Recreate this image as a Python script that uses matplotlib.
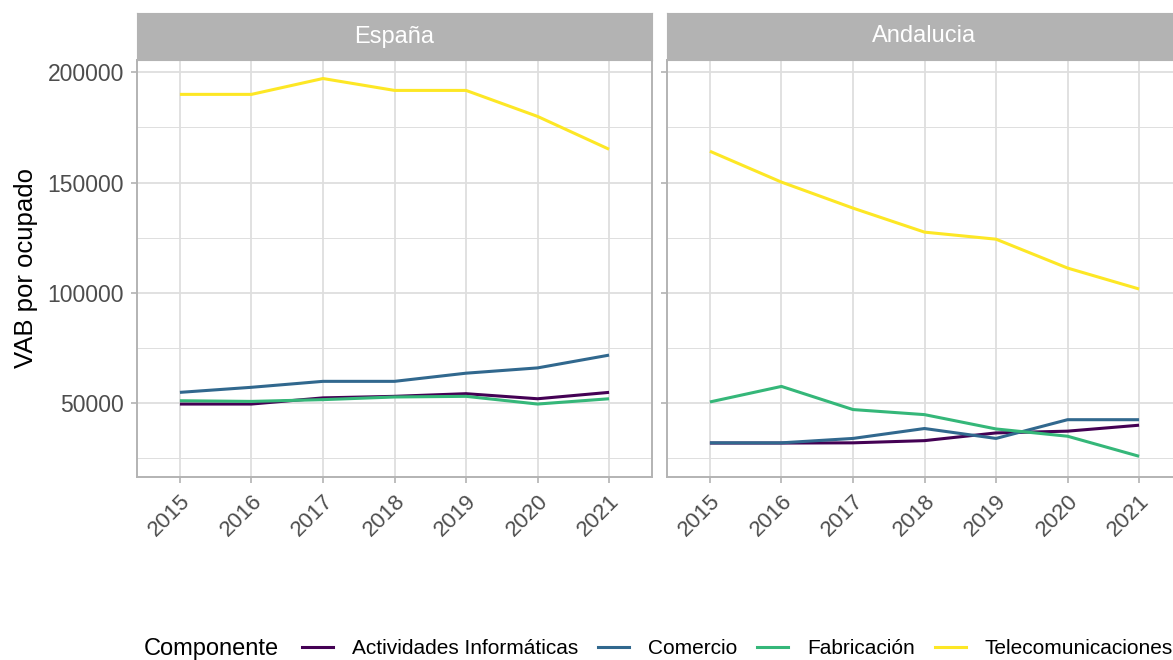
import matplotlib
matplotlib.use("Agg")
import matplotlib.pyplot as plt
from matplotlib.lines import Line2D
from matplotlib.ticker import MultipleLocator, FuncFormatter

plt.rcParams['font.family'] = ['Liberation Sans', 'DejaVu Sans']

years = [2015, 2016, 2017, 2018, 2019, 2020, 2021]
regions = ["España", "Andalucia"]
componentes = ["Actividades Informáticas", "Comercio", "Fabricación", "Telecomunicaciones"]
colors = ["#440154", "#31688E", "#35B779", "#FDE725"]

espana_actividades = [49500, 49500, 52300, 53000, 54200, 51900, 54800]
espana_comercio = [54800, 57100, 59800, 59800, 63500, 65900, 71700]
espana_fabricacion = [51000, 50700, 51500, 52700, 53000, 49500, 51900]
espana_telecom = [190000, 190000, 197200, 191800, 191800, 180000, 165100]

andalucia_actividades = [31800, 31800, 31900, 32900, 36400, 37200, 39900]
andalucia_comercio = [31900, 31900, 33900, 38400, 33900, 42400, 42400]
andalucia_fabricacion = [50450, 57500, 47000, 44700, 38200, 34900, 25800]
andalucia_telecom = [164200, 150200, 138400, 127500, 124300, 111200, 101700]

data = {
    "España": [espana_actividades, espana_comercio, espana_fabricacion, espana_telecom],
    "Andalucia": [andalucia_actividades, andalucia_comercio, andalucia_fabricacion, andalucia_telecom],
}

W, H = 1173, 660
fig = plt.figure(figsize=(W / 100, H / 100), dpi=100)

grey70 = "#B3B3B3"
grey87 = "#DEDEDE"
grey30 = "#4D4D4D"

panel_left = [137, 667]
panel_w = 515
panel_top, panel_bot = 60, 477
strip_top = 13

for i, reg in enumerate(regions):
    l = panel_left[i] / W
    b = 1 - panel_bot / H
    ax = fig.add_axes([l, b, panel_w / W, (panel_bot - panel_top) / H])
    for vals, c in zip(data[reg], colors):
        ax.plot(years, vals, color=c, lw=2.2, solid_capstyle='butt', zorder=3)
    ax.set_xlim(2015 - 0.6, 2021 + 0.6)
    ax.set_ylim(16400, 205600)
    ax.set_xticks(years)
    ax.set_xticklabels([str(y) for y in years], rotation=45, ha='right', va='top',
                       rotation_mode='anchor', color=grey30, fontsize=16)
    ax.yaxis.set_major_locator(MultipleLocator(50000))
    ax.yaxis.set_minor_locator(MultipleLocator(25000))
    ax.grid(which='major', color=grey87, lw=1.3, zorder=0)
    ax.grid(which='minor', axis='y', color=grey87, lw=0.7, zorder=0)
    ax.tick_params(axis='both', which='major', color=grey70, length=4, width=1.2,
                   labelsize=16, labelcolor=grey30)
    ax.tick_params(axis='y', which='major', labelsize=16.5)
    ax.tick_params(axis='y', which='minor', length=0)
    ax.tick_params(axis='x', pad=6)
    ax.tick_params(axis='y', pad=5.5)
    for s in ax.spines.values():
        s.set_color(grey70)
        s.set_linewidth(1.4)
    ax.set_axisbelow(True)
    if i == 0:
        ax.set_ylabel("VAB por ocupado", fontsize=18.5, color='black', labelpad=7)
        ax.yaxis.set_major_formatter(FuncFormatter(lambda v, p: f"{int(v)}"))
    else:
        ax.set_yticklabels([])
    # strip
    sax = fig.add_axes([l, 1 - panel_top / H, panel_w / W, (panel_top - strip_top) / H])
    sax.set_facecolor(grey70)
    sax.set_xticks([]); sax.set_yticks([])
    for s in sax.spines.values():
        s.set_color(grey70)
    sax.text(0.5, 0.5, reg, color='white', fontsize=17, ha='center', va='center',
             transform=sax.transAxes)

# legend
fig.text(144 / W, 1 - 649 / H, "Componente", fontsize=17, va='center', ha='left', color='black')
handles = [Line2D([0], [0], color=c, lw=2.2) for c in colors]
fig.legend(handles, componentes, loc='center left', bbox_to_anchor=(302 / W, 1 - 649 / H),
           ncol=4, frameon=False, fontsize=15, handlelength=1.5, handletextpad=0.9,
           columnspacing=0.95, borderaxespad=0, borderpad=0)

fig.savefig("out.png", dpi=100)
